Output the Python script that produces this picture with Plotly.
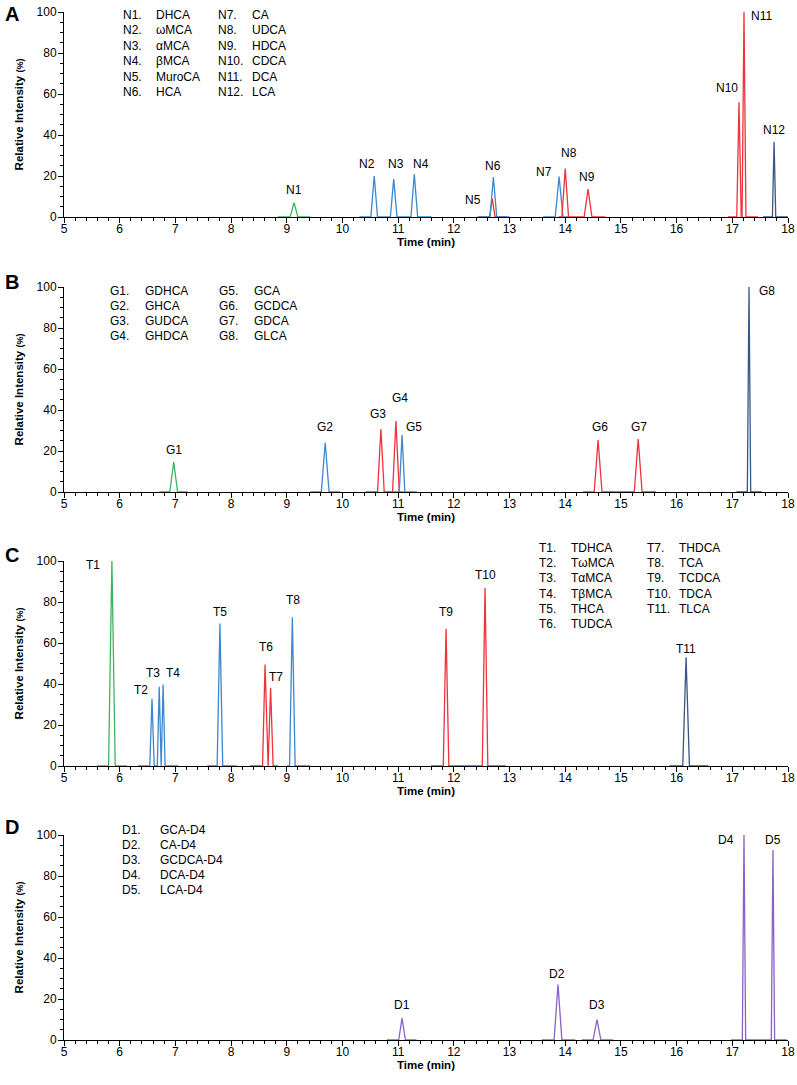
import plotly.graph_objects as go

# ---- Panel A: unconjugated bile acids ----
A_PEAKS = ["N1", "N2", "N3", "N4", "N5", "N6", "N7", "N8", "N9", "N10", "N11", "N12"]
A_RT = [9.13, 10.57, 10.92, 11.29, 12.69, 12.71, 13.89, 14.00, 14.41, 17.12, 17.21, 17.75]
A_HEIGHT = [7, 20, 18.5, 21, 9, 19.5, 19.7, 23.6, 13.6, 56, 100, 36.7]
A_HALFWIDTH = [0.07, 0.06, 0.06, 0.06, 0.05, 0.06, 0.07, 0.06, 0.07, 0.04, 0.035, 0.03]
A_CHANNEL = [0, 1, 1, 1, 2, 3, 4, 5, 5, 6, 6, 7]
A_CHANNEL_START = [8.84, 10.30, 12.45, 12.42, 13.60, 13.88, 16.92, 17.55]
A_CHANNEL_END = [9.42, 11.60, 12.95, 13.00, 14.08, 14.72, 17.46, 18.00]
A_CHANNEL_KIND = ["oxo", "tri", "di", "tri", "tri", "di", "di", "mono"]
A_COMPOUNDS = ["DHCA", "ωMCA", "αMCA", "βMCA", "MuroCA", "HCA",
               "CA", "UDCA", "HDCA", "CDCA", "DCA", "LCA"]

# ---- Panel B: glycine conjugates ----
B_PEAKS = ["G1", "G2", "G3", "G4", "G5", "G6", "G7", "G8"]
B_RT = [6.97, 9.69, 10.69, 10.96, 11.07, 14.59, 15.31, 17.30]
B_HEIGHT = [14.6, 24, 30.7, 34.6, 27.8, 25.4, 25.8, 100]
B_HALFWIDTH = [0.07, 0.07, 0.06, 0.06, 0.05, 0.07, 0.07, 0.03]
B_CHANNEL = [0, 1, 2, 2, 3, 4, 4, 5]
B_CHANNEL_START = [6.71, 9.42, 10.42, 10.80, 14.32, 17.07]
B_CHANNEL_END = [7.22, 9.96, 11.10, 11.34, 15.63, 17.53]
B_CHANNEL_KIND = ["oxo", "tri", "di", "tri", "di", "mono"]
B_COMPOUNDS = ["GDHCA", "GHCA", "GUDCA", "GHDCA", "GCA", "GCDCA", "GDCA", "GLCA"]

# ---- Panel C: taurine conjugates ----
C_PEAKS = ["T1", "T2", "T3", "T4", "T5", "T6", "T7", "T8", "T9", "T10", "T11"]
C_RT = [5.86, 6.58, 6.71, 6.78, 7.80, 8.61, 8.71, 9.10, 11.86, 12.56, 16.17]
C_HEIGHT = [100, 32.8, 38.7, 39.7, 69.5, 49.5, 38.2, 72.5, 67, 86.8, 53]
C_HALFWIDTH = [0.06, 0.04, 0.035, 0.035, 0.05, 0.045, 0.045, 0.05, 0.05, 0.05, 0.06]
C_CHANNEL = [0, 1, 1, 1, 2, 3, 3, 4, 5, 5, 6]
C_CHANNEL_START = [5.59, 6.33, 7.57, 8.34, 9.00, 11.59, 15.87]
C_CHANNEL_END = [6.13, 7.05, 8.10, 8.84, 9.42, 12.93, 16.57]
C_CHANNEL_KIND = ["oxo", "tri", "tri", "di", "tri", "di", "mono"]
C_COMPOUNDS = ["TDHCA", "TωMCA", "TαMCA", "TβMCA", "THCA", "TUDCA",
               "THDCA", "TCA", "TCDCA", "TDCA", "TLCA"]

# ---- Panel D: deuterated internal standards ----
D_PEAKS = ["D1", "D2", "D3", "D4", "D5"]
D_RT = [11.07, 13.87, 14.57, 17.21, 17.73]
D_HEIGHT = [10.7, 27, 10, 100, 92.7]
D_HALFWIDTH = [0.06, 0.07, 0.07, 0.03, 0.03]
D_CHANNEL = [0, 1, 2, 3, 4]
D_CHANNEL_START = [10.80, 13.58, 14.30, 16.98, 17.46]
D_CHANNEL_END = [11.33, 14.18, 14.86, 17.46, 17.98]
D_CHANNEL_KIND = ["d4", "d4", "d4", "d4", "d4"]
D_COMPOUNDS = ["GCA-D4", "CA-D4", "GCDCA-D4", "DCA-D4", "LCA-D4"]

# peak label anchors (data units)
A_LABEL_X = [9.13, 10.44, 10.96, 11.41, 12.35, 12.70, 13.62, 14.07, 14.39, 16.90, 17.52, 17.75]
A_LABEL_Y = [13, 26, 26, 26, 8.5, 25, 22, 31, 19.5, 63, 98, 42.5]
B_LABEL_X = [6.97, 9.69, 10.64, 11.03, 11.29, 14.62, 15.32, 17.62]
B_LABEL_Y = [20.5, 31.7, 38, 46, 31.7, 31.7, 31.7, 98]
C_LABEL_X = [5.52, 6.38, 6.60, 6.95, 7.80, 8.63, 8.81, 9.12, 11.86, 12.56, 16.17]
C_LABEL_Y = [98, 37, 45.6, 45.6, 75, 58, 43.6, 81, 75, 93, 57]
D_LABEL_X = [11.07, 13.85, 14.57, 16.89, 17.73]
D_LABEL_Y = [17, 32, 17, 97.5, 97.5]

COLORS = {"oxo": "#3db35f", "tri": "#3b87d0", "di": "#f0323a",
          "mono": "#3a5685", "d4": "#8a62c6"}
FONT = "Liberation Sans, Arial, sans-serif"

# layout in screen pixels
W, H = 797, 1085
LEFT, RIGHT = 64, 788
TOP, BOTTOM = 12, 1040
PANEL_TOPS = [12, 287, 561, 835]
PANEL_H = 205
LETTER_Y = [14, 282, 555, 827]
# (first row centre y, row step, [(code x, name x, first, last), ...])
KEY_LAYOUT = [
    (15, 15.4, [(121, 154, 0, 6), (216, 250, 6, 12)]),
    (291, 15.0, [(108, 143, 0, 4), (217, 252, 4, 8)]),
    (548, 15.2, [(537, 569, 0, 6), (645, 677, 6, 11)]),
    (830, 15.0, [(120, 158, 0, 5)]),
]


def px_to_paper(px, py):
    return (px - LEFT) / (RIGHT - LEFT), (BOTTOM - py) / (BOTTOM - TOP)


panels = [
    ("A", A_PEAKS, A_RT, A_HEIGHT, A_HALFWIDTH, A_CHANNEL, A_CHANNEL_START, A_CHANNEL_END,
     A_CHANNEL_KIND, A_COMPOUNDS, A_LABEL_X, A_LABEL_Y),
    ("B", B_PEAKS, B_RT, B_HEIGHT, B_HALFWIDTH, B_CHANNEL, B_CHANNEL_START, B_CHANNEL_END,
     B_CHANNEL_KIND, B_COMPOUNDS, B_LABEL_X, B_LABEL_Y),
    ("C", C_PEAKS, C_RT, C_HEIGHT, C_HALFWIDTH, C_CHANNEL, C_CHANNEL_START, C_CHANNEL_END,
     C_CHANNEL_KIND, C_COMPOUNDS, C_LABEL_X, C_LABEL_Y),
    ("D", D_PEAKS, D_RT, D_HEIGHT, D_HALFWIDTH, D_CHANNEL, D_CHANNEL_START, D_CHANNEL_END,
     D_CHANNEL_KIND, D_COMPOUNDS, D_LABEL_X, D_LABEL_Y),
]

fig = go.Figure()
annotations = []
layout = {}

for i, (letter, peaks, rt, hgt, hw, chan, cstart, cend, ckind, compounds, lx, ly) in enumerate(panels):
    n = i + 1
    xa = "x" if n == 1 else f"x{n}"
    ya = "y" if n == 1 else f"y{n}"
    top_px = PANEL_TOPS[i]
    bot_px = top_px + PANEL_H
    dom = [(BOTTOM - bot_px) / (BOTTOM - TOP), min(1.0, (BOTTOM - top_px) / (BOTTOM - TOP))]

    # one line per detection channel: flat baseline with triangular peaks
    for c in range(len(cstart)):
        xs, ys = [cstart[c]], [0]
        for k in range(len(rt)):
            if chan[k] != c:
                continue
            xs += [rt[k] - hw[k], rt[k], rt[k] + hw[k]]
            ys += [0, hgt[k], 0]
        xs.append(cend[c])
        ys.append(0)
        fig.add_trace(go.Scatter(x=xs, y=ys, mode="lines", xaxis=xa, yaxis=ya,
                                 line=dict(color=COLORS[ckind[c]], width=1.3),
                                 showlegend=False, hoverinfo="skip"))

    layout["xaxis" if n == 1 else f"xaxis{n}"] = dict(
        domain=[0, 1], anchor=ya, range=[5, 18], dtick=1, tick0=5, automargin=False,
        showline=True, linecolor="black", linewidth=1, showgrid=False, zeroline=False,
        ticks="outside", ticklen=5, tickcolor="black", layer="below traces",
        ticklabelstandoff=-4, ticklabeloverflow="allow",
        minor=dict(dtick=0.2, ticks="outside", ticklen=3, tickcolor="black", showgrid=False),
        tickfont=dict(family=FONT, size=12, color="black"),
        title=dict(text="<b>Time (min)</b>", standoff=2,
                   font=dict(family=FONT, size=11.5, color="black")),
    )
    layout["yaxis" if n == 1 else f"yaxis{n}"] = dict(
        domain=dom, anchor=xa, range=[0, 100], dtick=20, automargin=False,
        showline=True, linecolor="black", linewidth=1, showgrid=False, zeroline=False,
        ticks="outside", ticklen=5, tickcolor="black", layer="below traces",
        ticklabelstandoff=-1, ticklabeloverflow="allow",
        minor=dict(dtick=5, ticks="outside", ticklen=3, tickcolor="black", showgrid=False),
        tickfont=dict(family=FONT, size=12, color="black"),
        title=dict(text="<b>Relative Intensity <span style='font-size:9px'>(%)</span></b>",
                   standoff=10, font=dict(family=FONT, size=11.5, color="black")),
    )

    # peak labels
    for k in range(len(peaks)):
        annotations.append(dict(x=lx[k], y=ly[k], xref=xa, yref=ya, text=peaks[k],
                                showarrow=False, xanchor="center", yanchor="middle",
                                font=dict(family=FONT, size=12, color="black")))

    # compound key, one row at a time
    row0, step, cols = KEY_LAYOUT[i]
    for code_px, name_px, k0, k1 in cols:
        for r, k in enumerate(range(k0, k1)):
            py = row0 + r * step
            for px, txt in ((code_px, peaks[k] + "."), (name_px, compounds[k])):
                xp, yp = px_to_paper(px, py)
                annotations.append(dict(
                    x=xp, y=yp, xref="paper", yref="paper", showarrow=False,
                    xanchor="left", yanchor="middle", text=txt,
                    font=dict(family=FONT, size=12, color="black")))

    # panel letter
    xp, yp = px_to_paper(12, LETTER_Y[i])
    annotations.append(dict(
        x=xp, y=yp, xref="paper", yref="paper", showarrow=False,
        xanchor="center", yanchor="middle", text=f"<b>{letter}</b>", borderpad=0,
        font=dict(family=FONT, size=20, color="black")))

fig.update_layout(
    width=W, height=H,
    margin=dict(l=LEFT, r=W - RIGHT, t=TOP, b=H - BOTTOM, autoexpand=False),
    paper_bgcolor="white", plot_bgcolor="white",
    showlegend=False, annotations=annotations, **layout,
)

# drop the browser's default 8 px body margin so the figure fills the window
fig.write_html("out.html", config={"displayModeBar": False},
               post_script="document.body.style.margin = '0';")
